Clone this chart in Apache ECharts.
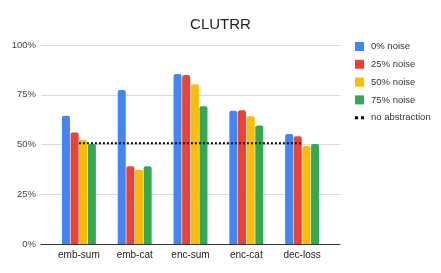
<!DOCTYPE html>
<html><head><meta charset="utf-8">
<script src="https://cdn.jsdelivr.net/npm/echarts@6/dist/echarts.min.js"></script>
<style>html,body{margin:0;padding:0;background:#fff}#c{width:441px;height:273px}</style>
</head><body><div id="c"></div>
<script>
const categories = ['emb-sum','emb-cat','enc-sum','enc-cat','dec-loss'];
const noise0  = [64.5, 77.4, 85.4, 66.9, 55.3];
const noise25 = [56.0, 39.1, 84.9, 67.2, 54.2];
const noise50 = [52.2, 37.3, 80.3, 64.2, 49.2];
const noise75 = [50.3, 39.1, 69.2, 59.5, 50.2];
const noAbstraction = [50.6, 50.6, 50.6, 50.6, 50.6];
const yTicks = [0, 25, 50, 75, 100];
const seriesNames = ['0% noise','25% noise','50% noise','75% noise','no abstraction'];
const colors = ['#4285F4','#EA4335','#FBBC04','#34A853'];

const font = 'Liberation Sans, Arial, sans-serif';
const chart = echarts.init(document.getElementById('c'), null, {renderer:'canvas'});
const barSeries = [noise0, noise25, noise50, noise75].map((d,i)=>({
  name: seriesNames[i], type:'bar', xAxisIndex:1, yAxisIndex:1,
  data: d, barWidth: 8, barGap: '8%',
  itemStyle:{color: colors[i], borderRadius:[2,2,0,0]},
  emphasis:{disabled:true}
}));
chart.setOption({
  animation:false,
  title:{text:'CLUTRR', left:'center', top:12, textStyle:{fontFamily:font, fontSize:15, fontWeight:'normal', color:'#222'}},
  legend:{
    orient:'vertical', left:355, top:41.5, padding:0, itemWidth:9, itemHeight:9, itemGap:7.8,
    textStyle:{fontFamily:font, fontSize:9.5, color:'#333', padding:[0,0,0,2]},
    data:[
      {name:seriesNames[0], icon:'rect'},
      {name:seriesNames[1], icon:'rect'},
      {name:seriesNames[2], icon:'rect'},
      {name:seriesNames[3], icon:'rect'},
      {name:seriesNames[4], icon:'path://M0,3h3v3h-3zM6,3h3v3h-3z', itemStyle:{color:'#000'}}
    ]
  },
  grid:[
    {left:41, right:101, top:45, bottom:29},
    {left:51, width:279, top:45, bottom:29}
  ],
  xAxis:[
    {type:'category', gridIndex:0, data:categories, axisLabel:{show:false}, axisTick:{show:false},
     axisLine:{lineStyle:{color:'#333', width:1}}},
    {type:'category', gridIndex:1, data:categories, axisTick:{show:false}, axisLine:{show:false},
     axisLabel:{fontFamily:font, fontSize:10, color:'#222', margin:6}}
  ],
  yAxis:[
    {type:'value', gridIndex:0, min:0, max:100, interval:25,
     axisLabel:{formatter:'{value}%', fontFamily:font, fontSize:9.5, color:'#444', margin:5},
     axisLine:{show:false}, axisTick:{show:false},
     splitLine:{lineStyle:{color:'#d9d9d9', width:1}}},
    {type:'value', gridIndex:1, min:0, max:100, interval:25, show:false}
  ],
  series:[
    {type:'bar', xAxisIndex:0, yAxisIndex:0, data:[], silent:true},
    ...barSeries,
    {name:seriesNames[4], type:'line', xAxisIndex:1, yAxisIndex:1, data:noAbstraction,
     symbol:'none', lineStyle:{color:'#000', type:[2,2], width:2}, itemStyle:{color:'#000'}, z:5}
  ]
});
</script></body></html>
